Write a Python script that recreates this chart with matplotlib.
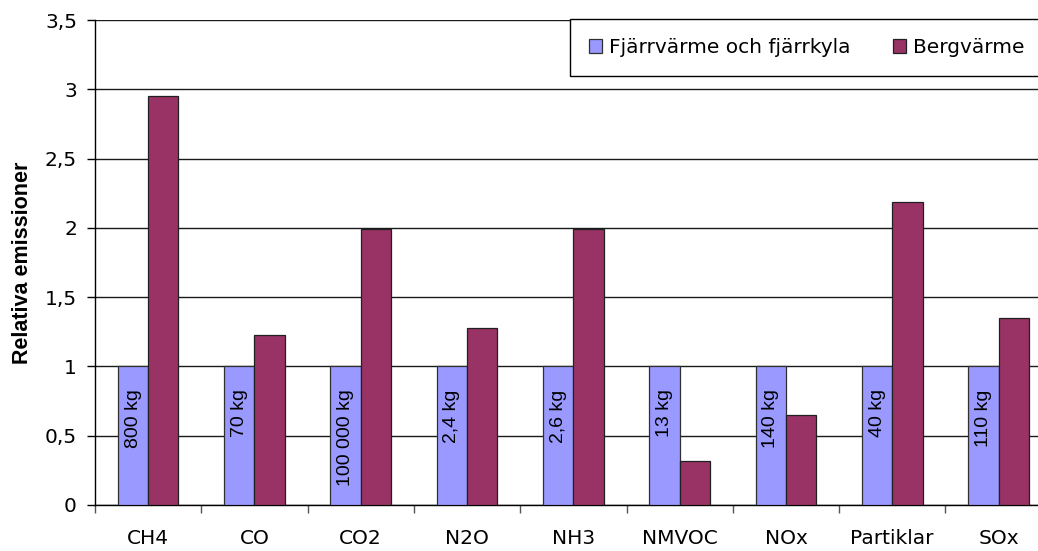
import matplotlib
matplotlib.use('Agg')
import matplotlib.pyplot as plt
import numpy as np
from matplotlib.ticker import FuncFormatter, FixedLocator

plt.rcParams['font.family'] = ['DejaVu Sans']

categories = ['CH4', 'CO', 'CO2', 'N2O', 'NH3', 'NMVOC', 'NOx', 'Partiklar', 'SOx']
fjarrvarme = [1, 1, 1, 1, 1, 1, 1, 1, 1]
bergvarme = [2.95, 1.23, 1.99, 1.28, 1.99, 0.32, 0.65, 2.19, 1.35]
mass_labels = ['800 kg', '70 kg', '100 000 kg', '2,4 kg', '2,6 kg', '13 kg', '140 kg', '40 kg', '110 kg']
series_names = ['Fjärrvärme och fjärrkyla', 'Bergvärme']

W, H = 1038, 551
fig = plt.figure(figsize=(W / 100, H / 100), dpi=100)
# plot area runs a little past the right edge of the image
ax = fig.add_axes([95 / W, 46 / H, 956.7 / W, 485 / H])

x = np.arange(len(categories))
bw = 0.285
ax.bar(x - bw / 2, fjarrvarme, bw, color='#9999FF', edgecolor='#303030', linewidth=0.9,
	label=series_names[0], zorder=3)
ax.bar(x + bw / 2, bergvarme, bw, color='#993366', edgecolor='#202020', linewidth=0.9,
	label=series_names[1], zorder=3)

for xi, txt in zip(x, mass_labels):
	ax.text(xi - bw / 2, 0.835, txt, rotation=90, ha='center', va='top', fontsize=14,
		family=['Liberation Sans', 'DejaVu Sans'], zorder=4)

ax.set_xlim(-0.5, len(categories) - 0.5)
ax.set_ylim(0, 3.5)
ax.set_yticks(np.arange(0, 3.51, 0.5))
ax.yaxis.set_major_formatter(FuncFormatter(lambda v, p: ('%g' % v).replace('.', ',')))
ax.yaxis.grid(True, color='#1a1a1a', linewidth=1.0, zorder=1)
ax.set_axisbelow(True)

ax.set_xticks(x)
ax.set_xticklabels(categories)
ax.xaxis.set_minor_locator(FixedLocator(np.arange(-0.5, len(categories), 1.0)))
ax.tick_params(axis='x', which='major', length=0, pad=17, labelsize=14.5)
ax.tick_params(axis='x', which='minor', length=6, width=1, color='#555555', direction='out')
ax.tick_params(axis='y', length=6, width=1, direction='out', pad=7, labelsize=14.5)

for side in ['top', 'right']:
	ax.spines[side].set_visible(False)
ax.spines['left'].set_linewidth(1.0)
ax.spines['bottom'].set_linewidth(1.0)

ax.set_ylabel('Relativa emissioner', fontsize=15.5, fontweight='bold',
	family=['Liberation Sans', 'DejaVu Sans'])
ax.yaxis.set_label_coords(-0.065, 0.5)

leg = ax.legend(loc='upper left', bbox_to_anchor=(570 / W, 1 - 19 / H),
	bbox_transform=fig.transFigure, ncol=2, fontsize=14.5, frameon=True, fancybox=False,
	framealpha=1, edgecolor='black', borderpad=0.95, borderaxespad=0,
	handlelength=0.65, handleheight=0.65, handletextpad=0.35, columnspacing=2.1)
leg.get_frame().set_linewidth(1.0)

fig.savefig('out.png', dpi=100)
